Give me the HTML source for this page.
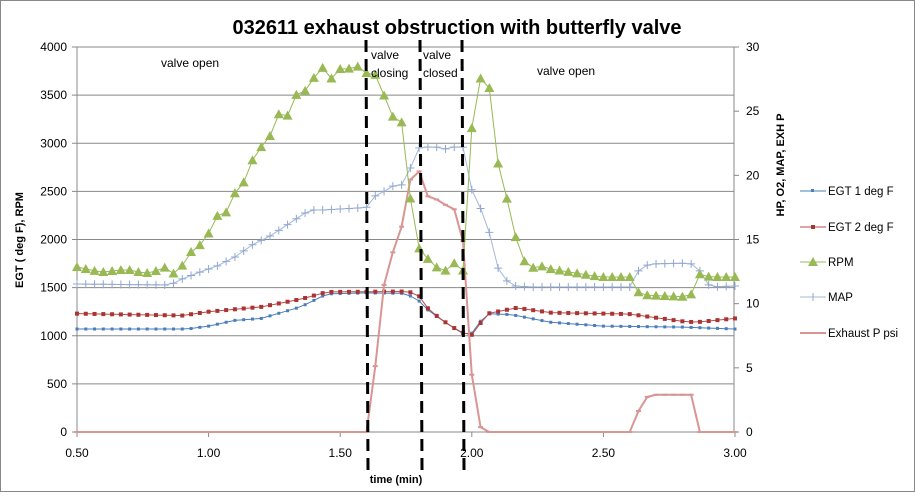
<!DOCTYPE html>
<html><head><meta charset="utf-8"><style>
body{margin:0;background:#fff}
svg text{font-family:"Liberation Sans",sans-serif}
</style></head><body>
<svg id="c" width="915" height="492" xmlns="http://www.w3.org/2000/svg">
<rect x="0.5" y="0.5" width="914" height="491" fill="#fff" stroke="#888"/>
<g id="g"></g>
</svg>
<script>
const g=document.getElementById('g');
const X=t=>77+(t-0.5)*263.2, YL=v=>432-v*0.09625, YR=v=>432-v*12.833;
let h='';
// grid
for(let v=0;v<=4000;v+=500){const y=YL(v);h+=`<line x1="77" x2="734" y1="${y}" y2="${y}" stroke="#888" stroke-width="1"/>`;
h+=`<line x1="72" x2="77" y1="${y}" y2="${y}" stroke="#888"/><text x="67" y="${y+4}" font-size="12" text-anchor="end">${v}</text>`;}
for(let v=0;v<=30;v+=5){const y=YR(v);h+=`<line x1="734" x2="739" y1="${y}" y2="${y}" stroke="#888"/><text x="746" y="${y+4}" font-size="12">${v}</text>`;}
h+=`<line x1="77" x2="77" y1="47" y2="432" stroke="#888"/><line x1="734" x2="734" y1="47" y2="432" stroke="#888"/>`;
[0.5,1,1.5,2,2.5,3].forEach(t=>{const x=X(t);h+=`<line x1="${x}" x2="${x}" y1="432" y2="437" stroke="#888"/><text x="${x}" y="457" font-size="12" text-anchor="middle">${t.toFixed(2)}</text>`;});
function interp(k,t){for(let i=0;i<k.length-1;i++){if(t>=k[i][0]&&t<=k[i+1][0]){const a=k[i],b=k[i+1];return a[1]+(b[1]-a[1])*(t-a[0])/(b[0]-a[0]);}}return k[k.length-1][1];}
const ts=[];for(let t=0.5;t<=3.0001;t+=2.5/75)ts.push(t);
function series(k,Y,color,w,mk){let pts=ts.map(t=>[X(t),Y(interp(k,t))]);let s=`<polyline fill="none" stroke="${color}" stroke-width="${w}" points="${pts.map(p=>p[0].toFixed(1)+','+p[1].toFixed(1)).join(' ')}"/>`;pts.forEach(p=>s+=mk(p[0],p[1]));return s;}
const egt1=[[0.5,1070],[0.92,1070],[1.0,1100],[1.1,1160],[1.2,1180],[1.35,1300],[1.45,1435],[1.6,1445],[1.75,1440],[1.8,1360],[1.84,1250],[1.92,1100],[1.98,1000],[2.01,1040],[2.05,1230],[2.15,1220],[2.3,1140],[2.5,1100],[2.8,1090],[3.0,1070]];
const egt2=[[0.5,1230],[0.9,1210],[1.0,1250],[1.2,1300],[1.35,1380],[1.45,1455],[1.76,1460],[1.8,1410],[1.84,1260],[1.92,1100],[1.98,1010],[2.0,1010],[2.06,1230],[2.17,1290],[2.3,1240],[2.6,1225],[2.8,1150],[2.85,1140],[3.0,1180]];
const px=[[77,267],[86,269],[95,271],[103,272],[112,271],[121,270],[130,270],[138,272],[147,273],[156,271],[164,267],[173,274],[182,266],[191,252],[200,245],[209,233],[217,216],[227,212],[235,193],[244,182],[252,161],[262,146],[270,136],[278,114],[287,117],[296,95],[305,91],[313,79],[322,67],[331,79],[340,69],[348,69],[357,66],[366,73],[376,75],[383,93],[393,117],[401,117],[410,196],[418,247],[428,259],[436,267],[445,271],[454,263],[463,271],[471,133],[480,78],[489,85],[498,163],[507,199],[515,235],[523,260],[532,268],[541,266],[550,269],[600,277],[630,277],[640,295],[690,297],[700,274],[710,277],[734,277]];
const rpm=px.map(p=>[(p[0]-77)/263.2+0.5,(432-p[1])/0.09625]);
const mp=[[77,284],[170,285],[182,279],[200,272],[217,266],[235,257],[252,245],[270,236],[287,225],[305,213],[313,210],[322,210],[357,208],[366,208],[375,196],[383,192],[393,186],[401,186],[410,169],[418,148],[428,147],[436,147],[445,149],[454,147],[463,147],[471,188],[480,207],[489,231],[498,268],[507,281],[515,286],[530,287],[630,287],[640,268],[650,264],[690,263],[700,271],[710,287],[734,286]];
const map=mp.map(p=>[(p[0]-77)/263.2+0.5,(432-p[1])/0.09625]);
const ex=[[0.5,0],[1.6,0],[1.63,4.5],[1.68,14],[1.72,14],[1.74,17],[1.79,22],[1.81,18.6],[1.85,18.2],[1.89,18],[1.91,17.4],[1.96,17.3],[1.98,10],[2.01,1.7],[2.04,0],[2.6,0],[2.63,1.5],[2.66,2.7],[2.7,2.9],[2.84,2.9],[2.86,0],[3.0,0]];
h+=series(egt1,YL,'#4a7ebb',1,(x,y)=>`<rect x="${x-1.5}" y="${y-1.5}" width="3" height="3" fill="#4a7ebb"/>`);
h+=series(egt2,YL,'#be4b48',1,(x,y)=>`<rect x="${x-2}" y="${y-2}" width="4" height="4" fill="#a33"/>`);
h+=series(map,YL,'#a4b8d8',1,(x,y)=>`<path d="M${x-4} ${y}h8M${x} ${y-4}v8" stroke="#90a8d0" stroke-width="1"/>`);
h+=series(ex,YR,'#d99594',2,(x,y)=>`<rect x="${x-2.5}" y="${y-1}" width="5" height="2" fill="#d99594"/>`);
h+=series(rpm,YL,'#98b954',1,(x,y)=>`<path d="M${x} ${y-5}L${x+5} ${y+4}L${x-5} ${y+4}Z" fill="#98b954"/>`);
// dashed lines
[366,420,462].forEach(x=>h+=`<line x1="${x}" x2="${x+2}" y1="40" y2="470" stroke="#000" stroke-width="3" stroke-dasharray="12,7"/>`);
h+=`<text x="457" y="34" font-size="20" font-weight="bold" text-anchor="middle">032611 exhaust obstruction with butterfly valve</text>`;
h+=`<text x="161" y="67" font-size="12">valve open</text><text x="537" y="75" font-size="12">valve open</text>`;
h+=`<text x="371" y="59" font-size="12">valve</text><text x="371" y="77" font-size="12">closing</text>`;
h+=`<text x="423" y="59" font-size="12">valve</text><text x="423" y="77" font-size="12">closed</text>`;
h+=`<text x="396" y="483" font-size="11" font-weight="bold" text-anchor="middle">time (min)</text>`;
h+=`<text transform="translate(23,240) rotate(-90)" font-size="11" font-weight="bold" text-anchor="middle">EGT ( deg F), RPM</text>`;
h+=`<text transform="translate(784,165) rotate(-90)" font-size="11" font-weight="bold" text-anchor="middle">HP, O2, MAP, EXH P</text>`;
const L=[['EGT 1 deg F','#4a7ebb',191],['EGT 2 deg F','#be4b48',227],['RPM','#98b954',262],['MAP','#a4b8d8',297],['Exhaust P  psi','#d99594',333]];
L.forEach((l,i)=>{h+=`<line x1="800" x2="826" y1="${l[2]}" y2="${l[2]}" stroke="${l[1]}" stroke-width="${i==4?2:1}"/><text x="828" y="${l[2]+4}" font-size="11.5">${l[0]}</text>`;});
h+=`<rect x="811" y="189" width="3" height="3" fill="#4a7ebb"/><rect x="811" y="225" width="4" height="4" fill="#a33"/><path d="M813 257L818 266L808 266Z" fill="#98b954"/><path d="M813 293v8" stroke="#90a8d0"/>`;
g.innerHTML=h;
</script>
</body></html>
